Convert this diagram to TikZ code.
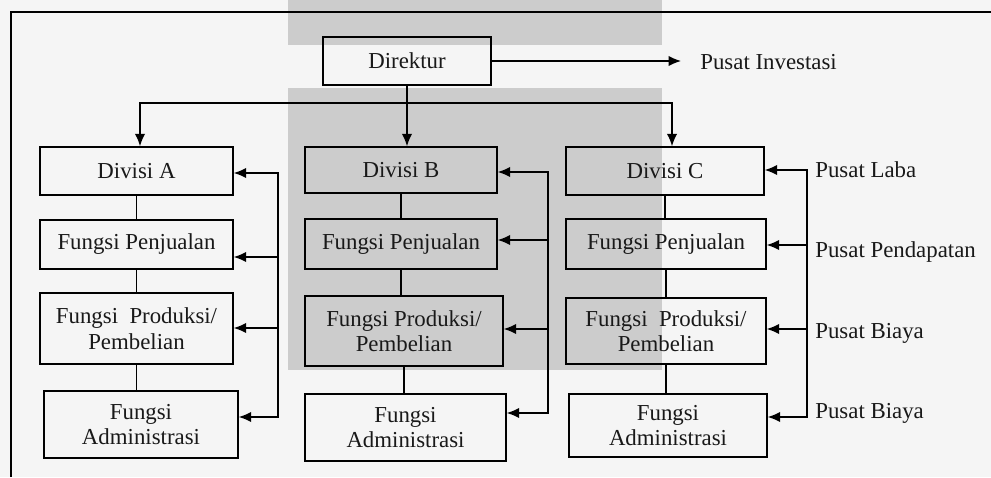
\documentclass[tikz,border=0pt]{standalone}
\usepackage{fontspec}
\setmainfont{Liberation Serif}
\usetikzlibrary{arrows.meta}

\begin{document}
\begin{tikzpicture}[x=0.02cm, y=-0.02cm,
	box/.style = {draw, line width=0.85pt, inner sep=0pt, align=center, text=black!90},
	arr/.style = {-{Latex[length=2.5mm, width=2.1mm]}, line width=0.85pt},
	lbl/.style = {anchor=west, inner sep=0pt, text=black!90},
	font=\fontsize{13}{14.5}\selectfont]
	
	%page, shading and frame
	\useasboundingbox (0,0) rectangle (991,477);
	\fill [black!4] (0,0) rectangle (991,477);
	\fill [black!20] (288,0) rectangle (662,45);
	\fill [black!20] (288,88) rectangle (662,370);
	\draw [line width=0.85pt] (11,477) -- (11,12) -- (991,12);
	
	%direktur
	\node [box, minimum width=3.36cm, minimum height=0.96cm] (dir) at (407,61) {Direktur};
	\node [lbl] (inv) at (700,62) {Pusat Investasi};
	\coordinate (invtip) at (681,61);
	\draw [arr] (dir) -- (invtip);
	
	%divisi A
	\node [box, minimum width=3.86cm, minimum height=0.96cm] (divA) at (136.5,171) {Divisi A};
	\node [box, minimum width=3.86cm, minimum height=0.98cm] (penjA) at (136.5,244.5) {Fungsi Penjualan};
	\node [box, minimum width=3.86cm, minimum height=1.42cm] (prodA) at (136.5,328.5) {Fungsi~ Produksi/\\Pembelian};
	\node [box, minimum width=3.88cm, minimum height=1.34cm] (admA) at (141,424.5) {Fungsi\\Administrasi};
	
	%divisi B
	\node [box, minimum width=3.84cm, minimum height=0.92cm] (divB) at (401,170) {Divisi B};
	\node [box, minimum width=3.84cm, minimum height=1.00cm] (penjB) at (401,244) {Fungsi Penjualan};
	\node [box, minimum width=3.96cm, minimum height=1.40cm] (prodB) at (404,331) {Fungsi Produksi/\\Pembelian};
	\node [box, minimum width=4.02cm, minimum height=1.34cm] (admB) at (405.5,427.5) {Fungsi\\Administrasi};
	
	%divisi C
	\node [box, minimum width=3.96cm, minimum height=0.96cm] (divC) at (665,171) {Divisi C};
	\node [box, minimum width=4.00cm, minimum height=1.00cm] (penjC) at (666,244) {Fungsi Penjualan};
	\node [box, minimum width=4.00cm, minimum height=1.32cm] (prodC) at (666,331) {Fungsi~ Produksi/\\Pembelian};
	\node [box, minimum width=3.96cm, minimum height=1.26cm] (admC) at (668,425.5) {Fungsi\\Administrasi};
	
	%direktur to divisions
	\coordinate (split) at (407,103);
	\draw [arr] (dir.south) -- (dir.south |- divB.north);
	\draw [arr, line join=miter] (split) -| ([xshift=2]divA.north);
	\draw [arr, line join=miter] (split) -| ([xshift=4]divC.north);
	
	%links inside divisions
	\foreach \a/\b in {divA/penjA, penjA/prodA, prodA/admA, divB/penjB, penjB/prodB, prodB/admB, divC/penjC, penjC/prodC, prodC/admC}
		\draw [line width=0.85pt] (\a.south) -- (\a.south |- \b.north);
	
	%responsibility centres
	\foreach \col/\x/\ya/\yb/\yc/\yd in {A/278/173/257/328/417, B/548/172/240/329/413, C/807/170/245/329/417}{
		\coordinate (bus\col1) at (\x,\ya);
		\coordinate (bus\col2) at (\x,\yb);
		\coordinate (bus\col3) at (\x,\yc);
		\coordinate (bus\col4) at (\x,\yd);
		\draw [line width=0.85pt, line cap=rect] (bus\col1) -- (bus\col4);
		\draw [arr] (bus\col1) -- (bus\col1 -| div\col.east);
		\draw [arr] (bus\col2) -- (bus\col2 -| penj\col.east);
		\draw [arr] (bus\col3) -- (bus\col3 -| prod\col.east);
		\draw [arr] (bus\col4) -- (bus\col4 -| adm\col.east);
	}
	
	\node [lbl] (laba) at (815,170) {Pusat Laba};
	\node [lbl] (pend) at (815,252) {Pusat Pendapatan};
	\node [lbl] (biaya1) at (815,333) {Pusat Biaya};
	\node [lbl] (biaya2) at (815,413) {Pusat Biaya};
\end{tikzpicture}
\end{document}
